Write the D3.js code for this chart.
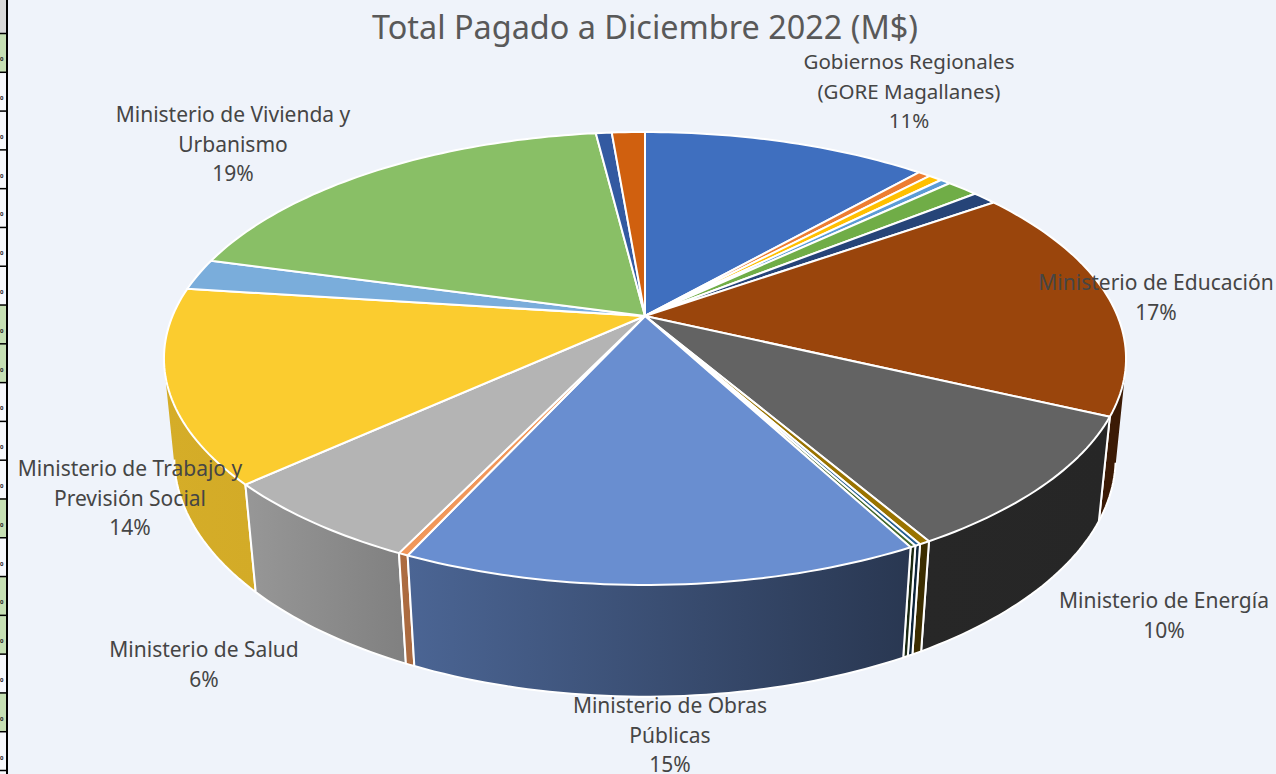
<!DOCTYPE html>
<html>
<head>
<meta charset="utf-8">
<script src="https://cdn.jsdelivr.net/npm/d3@7"></script>
<style>
    html, body { margin: 0; padding: 0; background: #eff3fa; overflow: hidden; }
    text { font-family: "Noto Sans", sans-serif; }
</style>
</head>
<body>
<div id="chart"></div>
<script>
// slices, clockwise from 12 o'clock (percent of total)
const sliceValues = [11.5, 0.51, 0.54, 0.42, 1.28, 0.99, 16.74, 9.62, 0.31, 0.16, 0.16, 14.61, 0.28, 6.11, 13.8, 2.25, 18.75, 0.64, 1.33];
const sliceColors = ["#3f6fbf", "#ed7d31", "#ffc000", "#5b9bd5", "#70ad47", "#264478", "#9a450c", "#636363", "#997300", "#255e91", "#43682b", "#698ed0", "#f1975a", "#b4b4b4", "#fbcc2f", "#7aaddb", "#89bf66", "#335aa1", "#d0600f"];

// only the big slices carry a label
const labelLines = [
    ["Gobiernos Regionales", "(GORE Magallanes)", "11%"],
    ["Ministerio de Educación", "17%"],
    ["Ministerio de Energía", "10%"],
    ["Ministerio de Obras", "Públicas", "15%"],
    ["Ministerio de Salud", "6%"],
    ["Ministerio de Trabajo y", "Previsión Social", "14%"],
    ["Ministerio de Vivienda y", "Urbanismo", "19%"]
];
const titleText = "Total Pagado a Diciembre 2022 (M$)";

// bit of the spreadsheet that shows along the left edge
const greenRows = [0, 7, 8, 12, 14, 15, 17];
const rowCount = 20;

const width = 1276, height = 774;
const labelAt = [[909, 69], [1156, 290], [1164, 608], [670, 713], [204, 657], [130, 476], [233, 122]];

// the two rims of the pie, seen in perspective
const topDisc = { cx: 645, cy: 316, rx: 472.5, ry: 218.5, k: 0.1876 };
const bottomDisc = { cx: 645, cy: 415, rx: 463, ry: 231, k: 0.18 };

function project(angle, disc) {
    let x = Math.sin(angle), y = -Math.cos(angle);
    let w = 1 - disc.k * y;
    return [disc.cx + disc.rx * x / w, disc.cy + disc.ry * y / w];
}

function rimAngles(a0, a1) {
    let n = Math.max(2, Math.ceil((a1 - a0) / 0.02));
    return d3.range(n + 1).map(i => a0 + (a1 - a0) * i / n);
}

function rim(a0, a1, disc) {
    return rimAngles(a0, a1).map(a => project(a, disc));
}

const svg = d3.select("#chart").append("svg")
    .attr("width", width)
    .attr("height", height)
    .style("display", "block");
const defs = svg.append("defs");
const line = d3.line();

// table cells
const rowY = d3.scaleLinear().domain([0, rowCount - 1]).range([33.5, 770.5]);
const table = svg.append("g");
table.append("rect").attr("width", 7).attr("height", rowY(0)).attr("fill", "#d9d9d9");
d3.range(rowCount).forEach(i => {
    table.append("rect")
        .attr("y", rowY(i))
        .attr("width", 7)
        .attr("height", rowY(i + 1) - rowY(i))
        .attr("fill", greenRows.includes(i) ? "#c6e0b4" : "#f6f8fc");
    if (rowY(i + 1) < height) {
        table.append("text")
            .attr("x", 0)
            .attr("y", rowY(i + 1) - 11)
            .attr("font-size", 6)
            .attr("font-weight", 700)
            .attr("fill", "#222")
            .text("0");
    }
    table.append("rect")
        .attr("y", rowY(i) - 0.75)
        .attr("width", 7)
        .attr("height", 1.5)
        .attr("fill", "#000");
});
table.append("rect").attr("x", 6).attr("width", 2).attr("height", height).attr("fill", "#000");

const pie = d3.pie().sort(null).value(d => d);
const arcs = pie(sliceValues);

// wall shading runs from light on the left to dark on the right
const shade = d3.scaleLinear()
    .domain([170, 256, 407, 905, 1110])
    .range([0.85, 0.84, 0.71, 0.39, 0.38])
    .clamp(true);
const darken = (color, k) => {
    let c = d3.rgb(color);
    return d3.rgb(c.r * k, c.g * k, c.b * k).formatHex();
};

// back walls first, top disc paints over whatever should be hidden
const walls = svg.append("g");
arcs.slice()
    .sort((a, b) => d3.descending(Math.cos((a.startAngle + a.endAngle) / 2), Math.cos((b.startAngle + b.endAngle) / 2)))
    .forEach(d => {
        let angles = rimAngles(d.startAngle, d.endAngle);
        let top = rim(d.startAngle, d.endAngle, topDisc);
        let bottom = rim(d.startAngle, d.endAngle, bottomDisc);
        let xs = d3.extent(top.concat(bottom), p => p[0]);
        let id = "wall" + d.index;
        let grad = defs.append("linearGradient")
            .attr("id", id)
            .attr("gradientUnits", "userSpaceOnUse")
            .attr("x1", xs[0]).attr("x2", xs[1])
            .attr("y1", 0).attr("y2", 0);
        grad.append("stop").attr("offset", 0).attr("stop-color", darken(sliceColors[d.index], shade(xs[0])));
        grad.append("stop").attr("offset", 1).attr("stop-color", darken(sliceColors[d.index], shade(xs[1])));

        // one quad per step, all wound the same way, so the wall also fills past the rim's turning point
        let quads = d3.range(top.length - 1).map(i => {
            let q = [top[i], top[i + 1], bottom[i + 1], bottom[i]];
            if (d3.polygonArea(q) < 0) q.reverse();
            return line(q) + "Z";
        });
        walls.append("path")
            .attr("d", quads.join(""))
            .attr("fill", `url(#${id})`);

        // white edge only on the part of the rim that faces the viewer
        let facing = i => Math.cos(angles[i]) < -bottomDisc.k;
        let edge = bottom.filter((p, i) => facing(i));
        if (edge.length) {
            if (facing(0)) edge.unshift(top[0]);
            if (facing(angles.length - 1)) edge.push(top[top.length - 1]);
            walls.append("path")
                .attr("d", line(edge))
                .attr("fill", "none")
                .attr("stroke", "#fff")
                .attr("stroke-width", 2)
                .attr("stroke-linejoin", "round");
        }
    });

// top of the pie
svg.append("g").selectAll("path")
    .data(arcs)
    .join("path")
    .attr("d", d => line([[topDisc.cx, topDisc.cy]].concat(rim(d.startAngle, d.endAngle, topDisc))) + "Z")
    .attr("fill", d => sliceColors[d.index])
    .attr("stroke", "#fff")
    .attr("stroke-width", 2)
    .attr("stroke-linejoin", "round");

// title and labels
svg.append("text")
    .attr("x", 645)
    .attr("y", 39)
    .attr("text-anchor", "middle")
    .attr("font-size", 32.4)
    .attr("fill", "#595959")
    .text(titleText);

const labels = svg.append("g")
    .attr("text-anchor", "middle")
    .attr("font-size", 21)
    .attr("fill", "#454545");
labelLines.forEach((lines, i) => {
    lines.forEach((s, j) => {
        labels.append("text")
            .attr("x", labelAt[i][0])
            .attr("y", labelAt[i][1] + j * 29.5)
            .attr("font-size", i === 0 ? 20.5 : null)
            .text(s);
    });
});
</script>
</body>
</html>
